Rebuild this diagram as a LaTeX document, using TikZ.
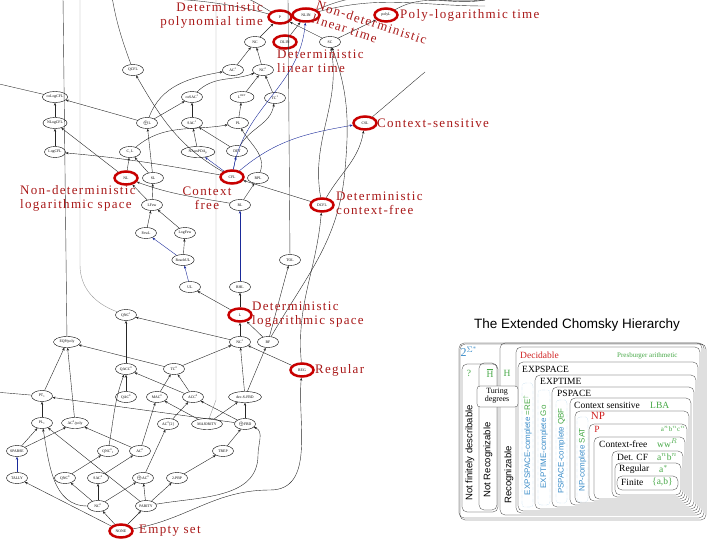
\documentclass[tikz,border=0pt]{standalone}
\usepackage{fontspec}
\setmainfont{Liberation Serif}
\setsansfont{Liberation Sans}
\newfontfamily\notefont[LetterSpace=10]{Liberation Serif}
\usetikzlibrary{shapes.geometric,arrows.meta,positioning}
\definecolor{hilite}{HTML}{C80000}
\definecolor{notered}{HTML}{A81818}
\definecolor{incblue}{HTML}{1A2A9A}
\definecolor{chgreen}{HTML}{46A846}
\definecolor{chblue}{HTML}{3A8CC8}
\definecolor{chred}{HTML}{D02020}
\newcommand\us[1]{\textsuperscript{#1}}
\newcommand\ls[1]{\textsubscript{#1}}
\tikzset{
  cls/.style={ellipse, draw, thin, inner sep=0.6pt, minimum width=21pt, minimum height=11pt,
              font=\fontsize{3.8}{4}\selectfont, fill=white},
  key/.style={cls, draw=hilite, line width=2.5pt, minimum width=23pt, minimum height=13pt},
  inc/.style={-{Stealth[length=3pt,width=2.4pt]}, thin, black!85},
  sinc/.style={inc, draw=incblue},
  thk/.style={inc, line width=1pt},
  far/.style={thin, black!80},
  pale/.style={thin, black!40},
  note/.style={text=notered, font=\notefont\fontsize{13}{14}\selectfont, align=left, inner sep=0pt},
  box/.style={draw, rounded corners=5pt, very thin},
  dbox/.style={draw=chblue, densely dotted, rounded corners=3pt, very thin},
  chtxt/.style={font=\fontsize{9.5}{10}\selectfont, inner sep=0pt},
  cmp/.style={font=\sffamily\fontsize{8}{8}\selectfont, inner sep=0pt, rotate=90}
}
\begin{document}
\begin{tikzpicture}[x=1pt,y=-1pt]
\useasboundingbox (0,0) rectangle (720,540);

% the zoo
\node[key] (P) at (280,17) {P};
\node[key, minimum width=27pt] (NLIN) at (306,15) {NLIN};
\node[key] (polyL) at (386,15) {polyL};
\node[cls] (NC) at (255,42) {NC};
\node[key] (DLIN) at (285,42) {DLIN};
\node[cls] (SC) at (330,42) {SC};
\node[cls] (QCFL) at (133,70) {QCFL};
\node[cls] (AC1) at (233,70) {AC\us{1}};
\node[cls] (NC2) at (263,70) {NC\us{2}};
\node[cls] (coLogCFL) at (55,97) {coLogCFL};
\node[cls] (coSAC1) at (192,97) {coSAC\us{1}};
\node[cls, minimum width=24pt] (LDET) at (242,97) {L\us{DET}};
\node[cls] (TC1) at (275,98) {TC\us{1}};
\node[cls] (NLogCFL) at (55,123) {NLogCFL};
\node[cls] (oplusL) at (147,123) {$\oplus$L};
\node[cls] (SAC1) at (192,123) {SAC\us{1}};
\node[cls] (PL) at (238,123) {PL};
\node[key] (CSL) at (365,123) {CSL};
\node[cls] (LogCFL) at (55,152) {LogCFL};
\node[cls] (CeqL) at (130,152) {C\ls{=}L};
\node[cls, minimum width=34pt] (NAux) at (198,152) {NAuxPDA\ls{p}};
\node[cls] (DET) at (237,151) {DET};
\node[key] (NL) at (126,178) {NL};
\node[cls] (SL) at (153,178) {SL};
\node[key] (CFL) at (232,177) {CFL};
\node[cls] (RPL) at (258,178) {RPL};
\node[cls] (LFew) at (152,205) {LFew};
\node[cls] (RL) at (240,205) {RL};
\node[key] (DCFL) at (322,205) {DCFL};
\node[cls] (FewL) at (146,233) {FewL};
\node[cls] (LogFew) at (185,233) {LogFew};
\node[cls] (ReachUL) at (183,260) {ReachUL};
\node[cls] (TOL) at (290,260) {TOL};
\node[cls] (UL) at (190,287) {UL};
\node[cls] (RHL) at (240,287) {RHL};
\node[key] (L) at (240,315) {L};
\node[cls] (QNC1) at (126,315) {QNC\us{1}};
\node[cls, minimum width=27pt] (EQPpoly) at (67,342) {EQP/poly};
\node[cls] (NC1) at (240,342) {NC\us{1}};
\node[cls] (BF) at (268,342) {BF};
\node[cls] (QACC0) at (126,369) {QACC\us{0}};
\node[cls] (TC0) at (174,369) {TC\us{0}};
\node[key] (REG) at (302,370) {REG};
\node[cls] (PT1) at (42,396) {PT\ls{1}};
\node[cls] (QAC0) at (126,397) {QAC\us{0}};
\node[cls] (MAC0) at (157,397) {MAC\us{0}};
\node[cls] (ACC0) at (193,397) {ACC\us{0}};
\node[cls, minimum width=33pt] (decSFBD) at (245,397) {dec-S-FBD};
\node[cls] (PL1) at (42,423) {PL\ls{1}};
\node[cls, minimum width=27pt] (ACpoly) at (75,423) {AC\us{0}/poly};
\node[cls] (AC02) at (168,424) {AC\us{0}[2]};
\node[cls, minimum width=31pt] (MAJ) at (207,424) {MAJORITY};
\node[cls] (FBD2) at (245,424) {$\oplus$FBD};
\node[cls] (SPARSE) at (17,451) {SPARSE};
\node[cls] (QNCf) at (108,451) {QNC\us{0}\ls{f}};
\node[cls] (AC0) at (140,451) {AC\us{0}};
\node[cls] (TREP) at (223,451) {TREP};
\node[cls] (TALLY) at (17,478) {TALLY};
\node[cls] (QNC0) at (65,478) {QNC\us{0}};
\node[cls] (SAC0) at (98,478) {SAC\us{0}};
\node[cls] (oplusAC0) at (143,478) {$\oplus$AC\us{0}};
\node[cls] (PBP) at (177,478) {2-PBP};
\node[cls] (NC0) at (98,506) {NC\us{0}};
\node[cls] (PARITY) at (146,506) {PARITY};
\node[key] (NONE) at (121,531) {NONE};

% ends that leave the picture
\coordinate (offA) at (-5,-3);
\coordinate (offB) at (485,0);
\coordinate (offC) at (485,6);
\coordinate (offD) at (112,-3);
\coordinate (offE) at (-5,83);
\coordinate (offF) at (63,-3);
\coordinate (offG) at (80,-3);
\coordinate (offH) at (216,-3);
\coordinate (offI) at (288,-3);
\coordinate (offJ) at (-5,392);
\coordinate (offK) at (425,72);
\coordinate (offL) at (240,-3);

\draw[far] (P) to[out=165,in=-5] (offA);
\draw[far] (P) to[out=150,in=-10] (offL);
\draw[far] (NLIN) to[out=25,in=185] (offB);
\draw[far] (NLIN) to[out=15,in=180] (offC);
\draw[far] (polyL) to[out=30,in=190] (offB);
\draw[far] (QCFL) to[out=110,in=-80] (offD);
\draw[far] (coLogCFL) -- (offE);
\draw[far] (EQPpoly) -- (offF);
\draw[pale] (QNC1) to[out=160,in=-90] (80,265) -- (offG);
\draw[pale] (MAJ) -- (216,400) -- (offH);
\draw[far] (TOL) -- (offI);
\draw[far] (offJ) -- (PT1);
\draw[far] (CSL) to[out=40,in=220] (offK);

% top block
\draw[inc] (NC) -- (P);
\draw[inc] (DLIN) -- (NLIN);
\draw[inc] (SC) -- (P);
\draw[inc] (SC) -- (polyL);
\draw[inc] (NC2) -- (NC);
\draw[inc] (AC1) -- (NC);
\draw[inc] (LDET) -- (NC2);
\draw[inc] (TC1) -- (NC2);
\draw[inc] (coSAC1) to[out=45,in=200] (NC2);
\draw[inc] (oplusL) to[out=70,in=190] (AC1);
\draw[inc] (oplusL) -- (coLogCFL);
\draw[inc] (oplusL) -- (coSAC1);
\draw[inc] (SAC1) -- (coSAC1);
\draw[inc] (PL) -- (LDET);
\draw[inc] (CeqL) to[out=40,in=190] (PL);
\draw[inc] (DET) -- (SAC1);
\draw[inc] (DET) to[out=60,in=-100] (TC1);
\draw[inc] (NAux) -- (SAC1);
\draw[inc] (LogCFL) -- (NLogCFL);
\draw[inc] (NLogCFL) -- (coLogCFL);
\draw[inc] (NL) -- (NLogCFL);
\draw[inc] (NL) -- (CeqL);
\draw[inc] (SL) -- (oplusL);
\draw[inc] (SL) -- (CeqL);
\draw[inc] (CFL) to[out=150,in=-60] (QCFL);
\draw[inc] (CFL) to[out=170,in=-5] (LogCFL);
\draw[sinc] (CFL) to[out=80,in=-95] (NLIN);
\draw[sinc] (CFL) -- (NAux);
\draw[sinc] (CFL) -- (DET);
\draw[sinc] (CFL) to[out=40,in=190] (CSL);

% logspace block
\draw[inc] (LFew) -- (NL);
\draw[inc] (LFew) -- (SL);
\draw[inc] (FewL) -- (LFew);
\draw[inc] (LogFew) -- (LFew);
\draw[sinc] (ReachUL) -- (FewL);
\draw[inc] (ReachUL) -- (LogFew);
\draw[sinc] (UL) -- (ReachUL);
\draw[inc] (L) -- (UL);
\draw[inc] (L) -- (RHL);
\draw[sinc] (RHL) -- (RL);
\draw[inc] (RL) -- (RPL);
\draw[inc] (RL) to[out=170,in=-20] (NL);
\draw[inc] (RPL) to[out=70,in=-60] (PL);
\draw[inc] (DCFL) -- (CFL);
\draw[inc] (DCFL) to[out=60,in=-100] (CSL);
\draw[inc] (DCFL) to[out=100,in=-80] (SC);
\draw[inc] (REG) to[out=95,in=-95] (DCFL);
\draw[inc] (BF) -- (TOL);
\draw[inc] (BF) to[out=60,in=-95] (345,170) to[out=85,in=-70] (SC);

% circuit block
\draw[thk] (QACC0) -- (QNC1);
\draw[inc] (NC1) -- (QNC1);
\draw[thk] (QAC0) -- (QACC0);
\draw[inc] (ACC0) -- (QACC0);
\draw[inc] (QNCf) to[out=80,in=-110] (QACC0);
\draw[inc] (TC0) -- (EQPpoly);
\draw[inc] (MAC0) -- (TC0);
\draw[inc] (ACC0) -- (TC0);
\draw[inc] (TC0) -- (NC1);
\draw[inc] (PT1) -- (EQPpoly);
\draw[inc] (ACpoly) -- (EQPpoly);
\draw[inc] (PL1) -- (PT1);
\draw[inc] (FBD2) -- (PT1);
\draw[inc] (SPARSE) -- (PL1);
\draw[inc] (SPARSE) -- (ACpoly);
\draw[sinc, line width=1pt] (TALLY) -- (SPARSE);
\draw[inc] (NONE) -- (TALLY);
\draw[inc] (NONE) -- (NC0);
\draw[inc] (NONE) -- (PARITY);
\draw[inc] (NONE) to[out=10,in=180] (270,490) to[out=0,in=-95] (REG);
\draw[inc] (NC0) -- (QNC0);
\draw[inc] (NC0) -- (SAC0);
\draw[inc] (NC0) -- (oplusAC0);
\draw[inc] (NC0) to[out=180,in=-80] (PL1);
\draw[inc] (QNC0) -- (QNCf);
\draw[inc] (SAC0) -- (AC0);
\draw[inc] (oplusAC0) -- (AC02);
\draw[inc] (PARITY) -- (oplusAC0);
\draw[inc] (PARITY) -- (PBP);
\draw[inc] (PARITY) -- (PL1);
\draw[inc] (PARITY) to[out=10,in=-90] (258,455) to[out=90,in=-20] (FBD2);
\draw[inc] (AC0) -- (MAC0);
\draw[inc] (AC0) -- (ACpoly);
\draw[inc] (AC02) -- (ACC0);
\draw[inc] (PBP) -- (TREP);
\draw[inc] (TREP) -- (FBD2);
\draw[inc] (FBD2) -- (decSFBD);
\draw[inc] (FBD2) -- (ACC0);
\draw[inc] (MAJ) -- (decSFBD);
\draw[inc] (MAJ) -- (MAC0);
\draw[inc] (decSFBD) -- (NC1);
\draw[inc] (decSFBD) -- (BF);
\draw[inc] (REG) -- (NC1);
\draw[inc] (NC1) -- (L);
\draw[inc] (BF) -- (L);

% notes
\node[note, align=right, anchor=north east] (nP) at (263,3) {Deterministic\\polynomial time};
\node[note, anchor=north west, rotate=-18] (nNLIN) at (318,0) {Non-deterministic\\linear time};
\node[note, anchor=west] (npolyL) at (400,15) {Poly-logarithmic time};
\node[note, anchor=north west] (nDLIN) at (277,50) {Deterministic\\linear time};
\node[note, anchor=west] (nCSL) at (377,123) {Context-sensitive};
\node[note, anchor=north west] (nNL) at (20,185) {Non-deterministic\\logarithmic space};
\node[note, align=center] (nCFL) at (207,198) {Context\\free};
\node[note, anchor=north west] (nDCFL) at (336,192) {Deterministic\\context-free};
\node[note, anchor=north west] (nL) at (252,302) {Deterministic\\logarithmic space};
\node[note, anchor=west] (nREG) at (315,370) {Regular};
\node[note, anchor=west] (nNONE) at (139,531) {Empty set};

% the extended Chomsky hierarchy
\node[font=\sffamily\fontsize{13.5}{14}\selectfont, inner sep=0pt] (chtitle) at (577,325) {The Extended Chomsky Hierarchy};
\draw[box] (460,344) rectangle (706,520);
\draw[box] (459,343) rectangle (704,518);
\draw[box] (462,364) rectangle (498,512);
\draw[box] (479,363) rectangle (497,510);
\draw[box] (500,343) rectangle (702,515);
\draw[box] (516,347) rectangle (700,513);
\draw[box] (518,362) rectangle (698,511);
\draw[box] (535,375) rectangle (696,509);
\draw[box] (552,387) rectangle (694,507);
\draw[box] (570,398) rectangle (691,505);
\draw[box] (575,411) rectangle (689,503);
\draw[box] (589,424) rectangle (687,501);
\draw[box] (594,437) rectangle (685,499);
\draw[box] (612,451) rectangle (683,497);
\draw[box] (615,463) rectangle (681,495);
\draw[box] (617,476) rectangle (678,490);
\draw[box, fill=white, rounded corners=3pt] (477,386) rectangle (518,407);
\draw[dbox] (522,383) rectangle (533,507);
\draw[dbox] (538,390) rectangle (550,505);
\draw[dbox] (556,400) rectangle (567,503);
\draw[dbox] (577,417) rectangle (588,502);

\node[chtxt, text=chblue, font=\fontsize{12}{12}\selectfont] (sig) at (469,352) {2$^{\Sigma^*}$};
\node[chtxt, text=chgreen] (qm) at (469,373) {?};
\node[chtxt, text=chgreen] (Hbar) at (490,373) {$\overline{\mathrm{H}}$};
\node[chtxt, text=chgreen] (Hset) at (507,373) {H};
\node[chtxt, align=center, font=\fontsize{8}{8}\selectfont] (turing) at (497,396) {Turing\\degrees};
\node[cmp, font=\sffamily\fontsize{9.5}{10}\selectfont] (nfd) at (470,453) {Not finitely describable};
\node[cmp, font=\sffamily\fontsize{9.5}{10}\selectfont] (nrec) at (488,460) {Not Recognizable};
\node[cmp, font=\sffamily\fontsize{9.5}{10}\selectfont] (rec) at (509,475) {Recognizable};
\node[chtxt, anchor=west, text=chred] (dec) at (520,355) {Decidable};
\node[chtxt, anchor=west, text=chgreen, font=\fontsize{7}{7}\selectfont] (pres) at (617,356) {Presburger arithmetic};
\node[chtxt, anchor=west] (expspace) at (522,369) {EXPSPACE};
\node[chtxt, anchor=west] (exptime) at (540,381) {EXPTIME};
\node[chtxt, anchor=west] (pspace) at (557,393) {PSPACE};
\node[chtxt, anchor=west] (csens) at (574,405) {Context sensitive};
\node[chtxt, anchor=west, text=chgreen] (lba) at (650,405) {LBA};
\node[chtxt, text=chred, font=\fontsize{11}{11}\selectfont] (np) at (598,416) {NP};
\node[chtxt, text=chred] (pp) at (597,429) {P};
\node[chtxt, text=chgreen, font=\fontsize{7}{7}\selectfont] (anbncn) at (673,429) {a$^n$b$^n$c$^n$};
\node[chtxt, anchor=west] (cfree) at (599,444) {Context-free};
\node[chtxt, anchor=west, text=chgreen] (wwr) at (657,443) {ww$^R$};
\node[chtxt, anchor=west] (dcf) at (617,457) {Det. CF};
\node[chtxt, anchor=west, text=chgreen] (anbn) at (657,457) {a$^n$b$^n$};
\node[chtxt, anchor=west] (regl) at (619,469) {Regular};
\node[chtxt, anchor=west, text=chgreen] (astar) at (659,469) {a$^*$};
\node[chtxt, anchor=west] (fin) at (621,482) {Finite};
\node[chtxt, anchor=west, text=chgreen] (ab) at (652,482) {\{a,b\}};
\node[cmp, text=chblue] (c1) at (527.5,445) {EXPSPACE-complete \textcolor{chgreen}{=RE$^{\uparrow}$}};
\node[cmp, text=chblue] (c2) at (544,447) {EXPTIME-complete \textcolor{chgreen}{Go}};
\node[cmp, text=chblue] (c3) at (561.5,451) {PSPACE-complete \textcolor{chgreen}{QBF}};
\node[cmp, text=chblue] (c4) at (582.5,460) {NP-complete \textcolor{chgreen}{SAT}};
\end{tikzpicture}
\end{document}
